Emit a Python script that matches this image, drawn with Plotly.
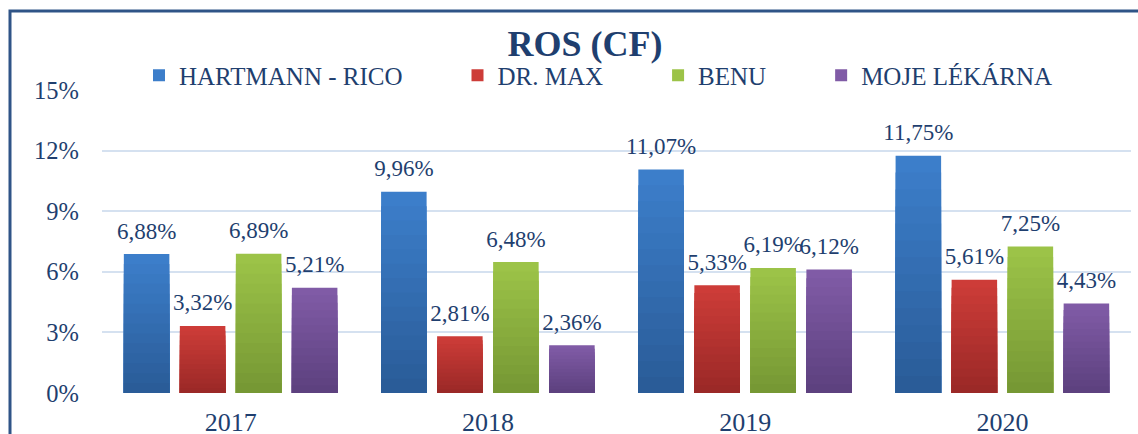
import plotly.graph_objects as go

years = ["2017", "2018", "2019", "2020"]
series_names = ["HARTMANN - RICO", "DR. MAX", "BENU", "MOJE LÉKÁRNA"]
hartmann = [6.88, 9.96, 11.07, 11.75]
drmax = [3.32, 2.81, 5.33, 5.61]
benu = [6.89, 6.48, 6.19, 7.25]
moje = [5.21, 2.36, 6.12, 4.43]
y_ticks = [0, 3, 6, 9, 12, 15]
y_tick_text = ["0%", "3%", "6%", "9%", "12%", "15%"]

series_values = [hartmann, drmax, benu, moje]
top_colors = [(60, 126, 202), (205, 60, 56), (156, 195, 72), (128, 91, 166)]
bottom_colors = [(42, 92, 152), (155, 41, 39), (118, 152, 52), (93, 65, 127)]

NAVY = "#1F3F6F"
FONT = "Liberation Serif"
N_LAYERS = 14
PAD = "\u00a0" * 8

fig = go.Figure()


def mix(c1, c2, t):
    return "rgb({},{},{})".format(*[round(a + (b - a) * t) for a, b in zip(c1, c2)])


for i, (name, vals) in enumerate(zip(series_names, series_values)):
    for k in range(N_LAYERS):
        frac = 1 - k / N_LAYERS
        fig.add_trace(go.Bar(
            x=years,
            y=[v * frac for v in vals],
            offsetgroup=str(i),
            name=name + (PAD if i < len(series_names) - 1 else ""),
            legendgroup=name,
            showlegend=(k == 0),
            marker=dict(color=mix(top_colors[i], bottom_colors[i], k / (N_LAYERS - 1)),
                        line=dict(width=0)),
            hoverinfo="skip",
        ))

for i, (name, vals) in enumerate(zip(series_names, series_values)):
    fig.add_trace(go.Scatter(
        x=years,
        y=vals,
        offsetgroup=str(i),
        mode="markers+text",
        name=name,
        showlegend=False,
        marker=dict(size=14, opacity=0),
        text=[f"{v:.2f}".replace(".", ",") + "%" for v in vals],
        textposition="top center",
        textfont=dict(family=FONT, size=23, color=NAVY),
        cliponaxis=False,
        hoverinfo="skip",
    ))

W, H = 1138, 434
L, R, T, B = 102, 7, 90, 41
pw = W - L - R
ph = H - T - B


def px_x(x):
    return (x - L) / pw


def px_y(y):
    return (H - B - y) / ph


fig.update_layout(
    width=W, height=H,
    margin=dict(l=L, r=R, t=T, b=B, autoexpand=False),
    paper_bgcolor="white",
    plot_bgcolor="white",
    barmode="group",
    bargap=0.129,
    bargroupgap=0.1875,
    scattermode="group",
    scattergap=0.129,
    title=dict(text="<b>ROS (CF)</b>", x=px_x(585), xref="paper", xanchor="center",
               y=1 - 43 / H, yanchor="middle",
               font=dict(family=FONT, size=36, color=NAVY)),
    legend=dict(orientation="h", x=px_x(139), xanchor="left", xref="paper",
                y=px_y(75.5), yanchor="middle",
                font=dict(family=FONT, size=25, color=NAVY),
                bgcolor="rgba(0,0,0,0)", itemwidth=30, traceorder="normal"),
    font=dict(family=FONT, color=NAVY),
    showlegend=True,
)
fig.update_xaxes(showgrid=False, showline=False, ticks="", automargin=False,
                 tickfont=dict(family=FONT, size=26, color=NAVY),
                 ticklabelstandoff=11)
fig.update_yaxes(range=[0, 15], tickmode="array", tickvals=y_ticks, ticktext=y_tick_text,
                 showgrid=True, gridcolor="#D5E1F0", gridwidth=2, automargin=False,
                 zeroline=False, showline=False, ticks="",
                 tickfont=dict(family=FONT, size=24.5, color=NAVY),
                 ticklabelstandoff=22)

fig.add_shape(type="rect", xref="paper", yref="paper",
              x0=px_x(10), x1=px_x(1150), y0=px_y(450), y1=px_y(11),
              line=dict(color="#2F5487", width=3), fillcolor="rgba(0,0,0,0)",
              layer="above")

fig.write_html("out.html", config={"displayModeBar": False},
               post_script="document.body.style.margin='0';")
